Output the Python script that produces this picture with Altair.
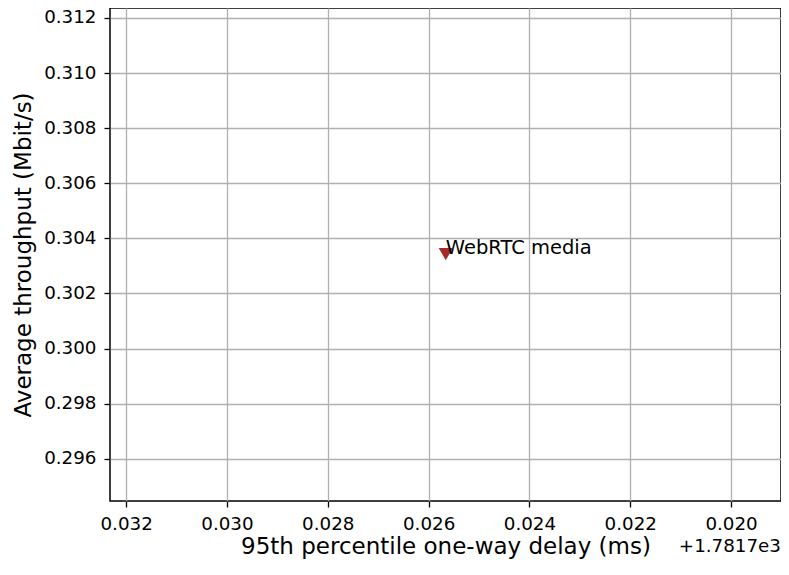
import altair as alt
import pandas as pd

# data
schemes = ["WebRTC media"]
delay_ms = [1781.72566]
throughput = [0.30343]

x_ticks = [1781.732, 1781.730, 1781.728, 1781.726, 1781.724, 1781.722, 1781.720]
y_ticks = [0.296, 0.298, 0.300, 0.302, 0.304, 0.306, 0.308, 0.310, 0.312]
offset_label = "+1.7817e3"

df = pd.DataFrame({"scheme": schemes, "delay": delay_ms, "tput": throughput})

W, H = 671, 493
xs = alt.Scale(domain=[1781.73232, 1781.71901], zero=False, nice=False)
ys = alt.Scale(domain=[0.29447, 0.31236], zero=False, nice=False)

x_enc = alt.X("delay:Q", scale=xs, axis=alt.Axis(
    values=x_ticks, labelExpr="format(datum.value - 1781.7, '.3f')",
    title="95th percentile one-way delay (ms)", labelPadding=8, titlePadding=3))
y_enc = alt.Y("tput:Q", scale=ys, axis=alt.Axis(
    values=y_ticks, format=".3f", title="Average throughput (Mbit/s)",
    labelPadding=8, titlePadding=8))

pts = alt.Chart(df).mark_point(shape="triangle-down", filled=True, size=200,
                               color="#a52a2a", opacity=1).encode(x=x_enc, y=y_enc)
lbl = alt.Chart(df).mark_text(align="left", baseline="alphabetic", fontSize=19.5,
                              font="DejaVu Sans", color="black").encode(
    x="delay:Q", y="tput:Q", text="scheme:N")
off = alt.Chart(pd.DataFrame({"t": [offset_label]})).mark_text(
    align="right", baseline="middle", fontSize=18.3, font="DejaVu Sans", color="black").encode(
    x=alt.value(W), y=alt.value(H + 46), text="t:N")

chart = (pts + lbl + off).properties(
    width=W, height=H,
    autosize=alt.AutoSizeParams(type="none"),
    padding={"left": 102, "top": 0, "right": 0, "bottom": 61},
).configure_view(stroke="black", strokeWidth=1.5).configure_axis(
    grid=True, gridColor="#b0b0b0", gridWidth=1.3, gridOpacity=1,
    domain=False, tickColor="black", tickSize=6, tickWidth=1.3,
    labelFont="DejaVu Sans", labelFontSize=18.3, labelColor="black",
    titleFont="DejaVu Sans", titleFontSize=23, titleFontWeight="normal", titleColor="black",
)

chart.save("out.html", embed_options={"renderer": "svg", "actions": False})
